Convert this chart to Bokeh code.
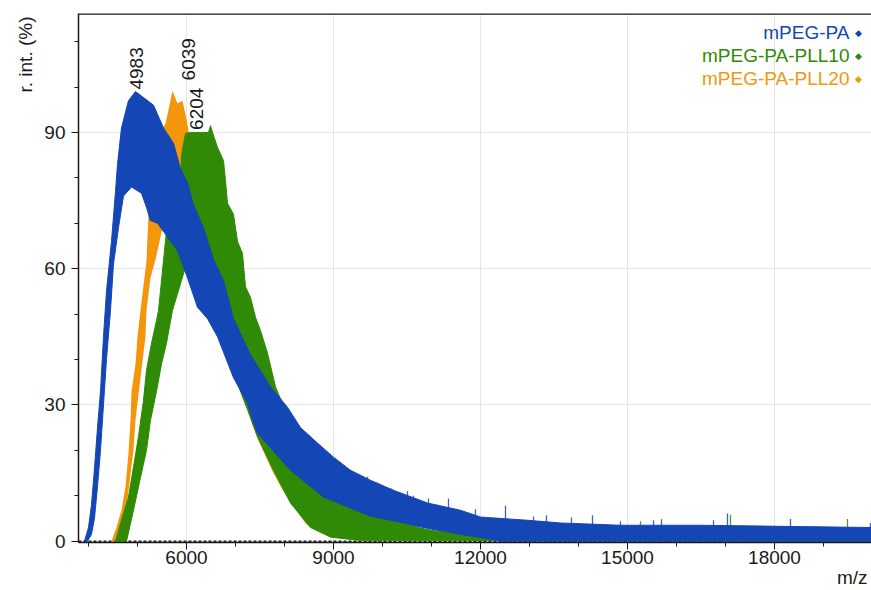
import math
from bokeh.plotting import figure
from bokeh.models import Range1d, SingleIntervalTicker, Label, Span, Title
from bokeh.core.properties import value
from bokeh.embed import file_html
from bokeh.resources import INLINE

FONT = "Liberation Sans"

series_names = ["mPEG-PA", "mPEG-PA-PLL10", "mPEG-PA-PLL20"]
series_colors = ["#1446b6", "#2f8a06", "#f4960c"]

# mPEG-PA (blue): upper and lower edge of the noisy trace
blue_upper_mz = [3918, 4000, 4061, 4122, 4184, 4245, 4306, 4367, 4469, 4551, 4592, 4673,
                 4816, 4959, 5122, 5327, 5531, 5735, 5878, 6020, 6143, 6347, 6551, 6755,
                 6959, 7306, 7714, 8061, 8327, 8673, 9000, 9347, 9755, 10224, 10918, 11592,
                 12000, 12959, 13633, 14857, 16490, 18531, 19980]
blue_upper = [0, 3, 8, 16, 25, 33, 45, 55, 66, 77, 83, 91,
              97, 99, 97.7, 96, 91, 87.6, 82, 79, 74, 69, 62, 57.4,
              49, 41, 34, 29.5, 25, 21.6, 18.5, 15.6, 13.4, 11.2, 8.4, 6.8,
              5.3, 4.6, 4.0, 3.5, 3.5, 3.2, 3.0]
blue_lower_mz = [3980, 4061, 4122, 4184, 4245, 4306, 4367, 4449, 4510, 4612, 4714, 4878,
                 5082, 5184, 5265, 5408, 5816, 6020, 6224, 6429, 6633, 6959, 7245, 7367,
                 7449, 8122, 8796, 9755, 10224, 10918, 11592, 12000, 12408, 19980]
blue_lower = [0, 1.5, 5, 12, 20, 30, 40, 50.8, 61, 69, 76, 78,
              76.6, 73.5, 70.6, 70, 64, 58, 51.5, 49, 45, 36, 30.4, 26,
              23.8, 15.6, 9.7, 5.5, 4.5, 2.8, 1.5, 0.8, 0, 0]
blue_spike_mz = [9694, 9898, 10184, 10510, 10633, 10939, 11347,
                 11898, 12510, 13082, 13347, 13857, 14286, 14857, 15531, 15694, 16755,
                 17041, 18327, 19959]
blue_spike = [14.2, 12.9, 11.6, 11.0, 10.0, 9.4, 9.4,
              7.0, 7.8, 5.4, 5.7, 5.2, 5.7, 4.4, 4.6, 4.8, 4.6,
              6.1, 4.9, 4.0]

# mPEG-PA-PLL10 (green)
green_upper_mz = [4551, 4673, 4816, 4918, 5020, 5122, 5184, 5286, 5388, 5429, 5531, 5592,
                  5735, 5878, 5898, 5980, 6082, 6286, 6449, 6490, 6531, 6633, 6755, 6796,
                  6837, 6959, 7041, 7143, 7204, 7306, 7408, 7510, 7653, 7816, 8122, 8531,
                  8939, 9347, 9755, 10224, 10918, 11592, 12265, 14449, 19980]
green_upper = [0, 4.6, 9.7, 16.3, 23, 31, 37.6, 43.6, 48.6, 50.8, 61.8, 68.4,
               72, 79.4, 85, 89.8, 90, 90, 90, 91.5, 90, 86.7, 83.8, 79.4,
               74.4, 72, 66, 63.4, 56, 53.7, 49.3, 46.4, 41.4, 34, 26, 18,
               13, 9, 6.5, 4.5, 2.5, 1.5, 1.0, 0.6, 0.5]
green_lower_mz = [4776, 4918, 5061, 5184, 5265, 5388, 5490, 5592, 5714, 5898, 5980, 6082,
                  6286, 6592, 6959, 7245, 7449, 7776, 8122, 8531, 8939, 9490, 19980]
green_lower = [0, 6.8, 14, 20, 26.6, 33, 39, 43.6, 50.8, 57.4, 60.3, 60,
               55, 47, 37, 29, 23, 15.6, 8.4, 3, 0.9, 0.2, 0]
green_spike_mz = [15265, 17102, 19490]
green_spike = [4.4, 5.8, 4.9]

# mPEG-PA-PLL20 (orange)
orange_upper_mz = [4469, 4571, 4673, 4755, 4816, 4857, 4878, 4959, 5000, 5061, 5184, 5224,
                   5367, 5469, 5571, 5633, 5714, 5816, 5918, 5980, 6082, 6286, 6490, 6694,
                   6898, 7102, 7306, 7510, 7714, 8122, 8531, 8939, 9551, 10367, 11388,
                   13429, 19980]
orange_upper = [0, 3, 6.8, 12, 19.4, 26.6, 33, 39, 45, 50.8, 61.8, 72,
                82, 90, 92, 95, 99.2, 96.4, 97, 94, 88, 84, 82, 77,
                68, 60, 50, 43, 33, 22, 12, 7, 4, 2, 1,
                0.5, 0.3]
orange_lower_mz = [4612, 4755, 4816, 4918, 4959, 5061, 5163, 5184, 5265, 5367, 5571, 5776,
                   5980, 6286, 6694, 7102, 7449, 7755, 7959, 8429, 8939, 9551, 19980]
orange_lower = [0, 5.3, 11, 20, 26.6, 36, 45, 50.8, 58, 62, 72, 75,
                70, 60, 46, 33, 22.6, 15.4, 11.3, 3.9, 0.8, 0.2, 0]

peak_mz = [4983, 6039, 6204]
peak_int = [98.8, 100.8, 89.9]
peak_text = ["4983", "6039", "6204"]

x_ticks_major = 3000
y_ticks_major = 30
x_title = "m/z"
y_title = "r. int. (%)"

X0, X1 = 3796, 19980
Y0, Y1 = -0.3, 116.2

p = figure(width=871, height=590, output_backend="svg", toolbar_location=None,
           x_range=Range1d(X0, X1), y_range=Range1d(Y0, Y1),
           min_border_left=78, min_border_right=0, min_border_top=13, min_border_bottom=48,
           background_fill_color="white", border_fill_color="white")
p.outline_line_color = None

for ax, interval in ((p.xaxis[0], x_ticks_major), (p.yaxis[0], y_ticks_major)):
    ax.ticker = SingleIntervalTicker(interval=interval, num_minor_ticks=3)
    ax.axis_line_color = "#1a1a1a"
    ax.axis_line_width = 1.5
    ax.major_tick_line_color = "#1a1a1a"
    ax.minor_tick_line_color = "#1a1a1a"
    ax.major_tick_in = 0
    ax.major_tick_out = 7
    ax.minor_tick_in = 0
    ax.minor_tick_out = 4
    ax.major_label_text_font = FONT
    ax.major_label_text_font_size = "19px"
    ax.major_label_text_color = "#1a1a1a"

p.xaxis.major_label_standoff = 1
p.yaxis.major_label_standoff = 6

p.add_layout(Title(text=y_title, align="right", standoff=11, offset=3, text_font=FONT,
                   text_font_size="19px", text_font_style="normal",
                   text_color="#1a1a1a"), "left")
p.add_layout(Title(text=x_title, align="right", standoff=-4, offset=4, text_font=FONT,
                   text_font_size="19px", text_font_style="normal",
                   text_color="#1a1a1a"), "below")

p.xgrid.grid_line_color = "#e6e6e6"
p.ygrid.grid_line_color = "#e6e6e6"

p.add_layout(Span(location=0, dimension="width", line_color="#222222",
                  line_dash="3 2", line_width=1.5, level="underlay"))
p.add_layout(Span(location=Y1, dimension="width", line_color="#1a1a1a", line_width=2.5))


def band(xu, yu, xl, yl):
    return list(xu) + list(xl)[::-1], list(yu) + list(yl)[::-1]


bx, by = band(blue_upper_mz, blue_upper, blue_lower_mz, blue_lower)
gx, gy = band(green_upper_mz, green_upper, green_lower_mz, green_lower)
ox, oy = band(orange_upper_mz, orange_upper, orange_lower_mz, orange_lower)

# spikes first: only their tips above the bands stay visible
p.segment(x0=blue_spike_mz, y0=[0] * len(blue_spike_mz), x1=blue_spike_mz, y1=blue_spike,
          line_color="#3d64c4", line_width=1.3)
p.segment(x0=green_spike_mz, y0=[0] * len(green_spike_mz), x1=green_spike_mz, y1=green_spike,
          line_color="#4e9e24", line_width=1.3)
p.patch(ox, oy, fill_color=series_colors[2], line_color=None)
p.patch(gx, gy, fill_color=series_colors[1], line_color=series_colors[1], line_width=1)
p.patch(bx, by, fill_color=series_colors[0], line_color=series_colors[0], line_width=1)

p.text(x=peak_mz, y=peak_int, text=peak_text, angle=math.pi / 2,
       text_align="left", text_baseline="middle", y_offset=-3,
       text_font=value(FONT), text_font_size="19px", text_color="#1a1a1a")

for i, (name, col) in enumerate(zip(series_names, series_colors)):
    p.add_layout(Label(x=X1, y=Y1, x_offset=-22, y_offset=-19 - 23 * i, text=name,
                       text_align="right", text_baseline="middle",
                       text_font=FONT, text_font_size="19px", text_color=col))
    p.add_layout(Label(x=X1, y=Y1, x_offset=-13, y_offset=-19 - 23 * i, text="\u25c6",
                       text_align="center", text_baseline="middle",
                       text_font="DejaVu Sans", text_font_size="9px", text_color=col))

open("out.html", "w").write(file_html(p, INLINE))
